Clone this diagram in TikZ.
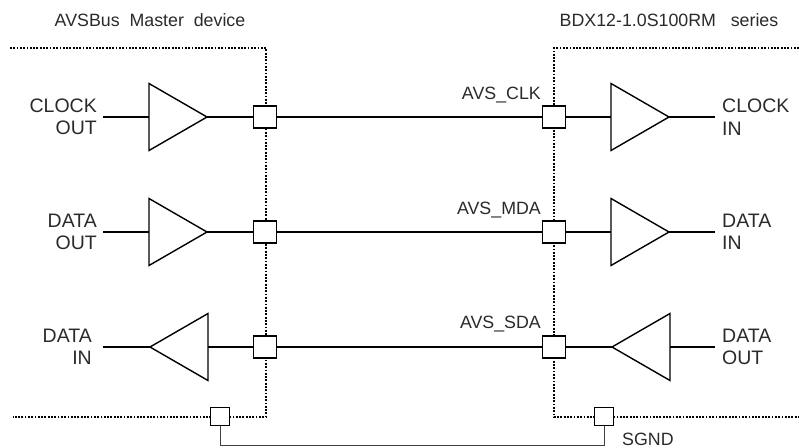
\documentclass[tikz,border=0pt]{standalone}
\usepackage{fontspec}
\setmainfont{Liberation Sans}
\definecolor{txt}{HTML}{2A2A2A}
\begin{document}
\begin{tikzpicture}[x=1pt,y=-1pt,
  wire/.style={line width=1.4pt, line join=miter},
  bound/.style={line width=1.5pt, dash pattern=on 1.8pt off 1.5pt},
  gline/.style={line width=0.9pt, draw=black!75},
  pad/.style={draw, fill=white, line width=1.3pt, minimum width=23pt, minimum height=22pt, inner sep=0pt},
  gpad/.style={draw, fill=white, line width=1pt, minimum width=19pt, minimum height=18pt, inner sep=0pt},
  lbl/.style={text=txt, inner sep=0pt, font=\fontsize{19.5}{22.5}\selectfont},
  slbl/.style={text=txt, inner sep=0pt, font=\fontsize{17.8}{21}\selectfont},
  sig/.style={slbl, anchor=base east},
  ttl/.style={slbl, anchor=base}]
\useasboundingbox (0,0) rectangle (799,447);

% titles
\node[ttl] (t1) at (150,26) {AVSBus\ \ Master\ \ device};
\node[ttl] (t2) at (669,26) {BDX12-1.0S100RM\ \ \ series};

% boundaries
\draw[bound] (10,48) -- (266,48) -- (266,417) -- (13,417);
\draw[bound] (799,48) -- (554,48) -- (554,417) -- (799,417);

% named coordinates per row
\foreach \i/\y in {1/117,2/232,3/347}{
  \coordinate (inL\i) at (103,\y);
  \coordinate (outR\i) at (715,\y);
}
% triangles (rows 1,2 point right)
\foreach \i/\y in {1/117,2/232}{
  \coordinate (tLb\i) at (149,\y); \coordinate (tLa\i) at (207,\y);
  \coordinate (tRb\i) at (611,\y); \coordinate (tRa\i) at (669,\y);
  \draw[wire] (149,\y-33.5) -- (tLa\i) -- (149,\y+33.5) -- cycle;
  \draw[wire] (611,\y-33.5) -- (tRa\i) -- (611,\y+33.5) -- cycle;
}
% row 3 points left
\coordinate (tLa3) at (150,347); \coordinate (tLb3) at (208,347);
\coordinate (tRa3) at (612,347); \coordinate (tRb3) at (670,347);
\draw[wire] (208,313.5) -- (tLa3) -- (208,380.5) -- cycle;
\draw[wire] (670,313.5) -- (tRa3) -- (670,380.5) -- cycle;

% pads
\foreach \i/\y in {1/117,2/232,3/347}{
  \node[pad] (pL\i) at (265,\y) {};
  \node[pad] (pR\i) at (554,\y) {};
}

% wires
\foreach \i in {1,2}{
  \draw[wire] (inL\i) -- (tLb\i);
  \draw[wire] (tLa\i) -- (pL\i);
  \draw[wire] (pL\i) -- (pR\i);
  \draw[wire] (pR\i) -- (tRb\i);
  \draw[wire] (tRa\i) -- (outR\i);
}
\draw[wire] (inL3) -- (tLa3);
\draw[wire] (tLb3) -- (pL3);
\draw[wire] (pL3) -- (pR3);
\draw[wire] (pR3) -- (tRa3);
\draw[wire] (tRb3) -- (outR3);

% labels
\node[lbl, align=right, anchor=east] (l1) at (97,117) {CLOCK\\OUT};
\node[lbl, align=right, anchor=east] (l2) at (97,232) {DATA\\OUT};
\node[lbl, align=right, anchor=east] (l3) at (92,347) {DATA\\IN};
\node[lbl, align=left, anchor=west] (r1) at (722,117) {CLOCK\\IN};
\node[lbl, align=left, anchor=west] (r2) at (722,232) {DATA\\IN};
\node[lbl, align=left, anchor=west] (r3) at (722,347) {DATA\\OUT};

\node[sig] (s1) at (541,99) {AVS\_CLK};
\node[sig] (s2) at (541,214) {AVS\_MDA};
\node[sig] (s3) at (541,328) {AVS\_SDA};

% ground
\node[gpad] (gL) at (220,416) {};
\node[gpad] (gR) at (604,416) {};
\coordinate (gc) at (220,445.5);
\draw[gline] (gL.south) -- (gc) -| (gR.south);
\node[slbl, anchor=north west] (sg) at (622,433) {SGND};
\end{tikzpicture}
\end{document}
